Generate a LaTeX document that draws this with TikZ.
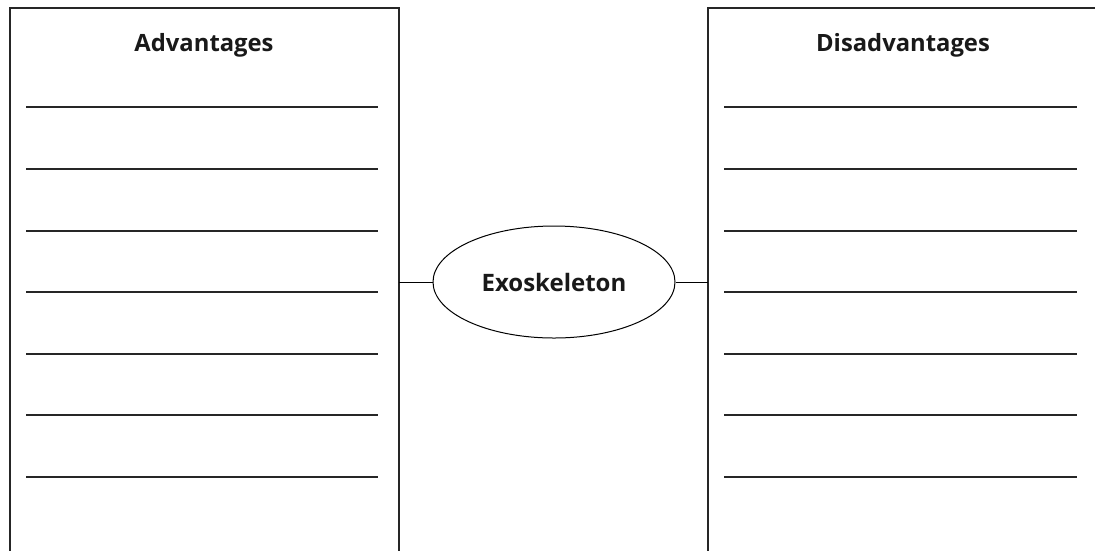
\documentclass[tikz,border=0pt]{standalone}
\usepackage{fontspec}
\setmainfont{Open Sans}
\usetikzlibrary{shapes.geometric}
\begin{document}
\begin{tikzpicture}[x=1pt,y=-1pt,
  boxline/.style={line width=1.3pt,black!85},
  rule/.style={line width=1.3pt,black!85},
  title/.style={font=\fontsize{23.8}{28}\selectfont\bfseries,text=black!90},
  hub/.style={ellipse,draw,line width=1pt,minimum width=242pt,minimum height=112pt,inner sep=0pt,font=\fontsize{24}{28}\selectfont\bfseries,text=black!90}]
\useasboundingbox (0,0) rectangle (1095,550);
\clip (0,0) rectangle (1095,550);
% boxes
\draw[boxline] (10,552) -- (10,8) -- (399,8) -- (399,552);
\draw[boxline] (708,552) -- (708,8) -- (1100,8);
% titles
\node[title] (adv) at (204,45) {Advantages};
\node[title] (dis) at (903,45) {Disadvantages};
% rules
\foreach \y in {107,169,231,292,354,415,477}{
  \draw[rule] (26,\y) -- (378,\y);
  \draw[rule] (724,\y) -- (1077,\y);
}
% hub
\node[hub] (exo) at (554,282) {Exoskeleton};
\coordinate (lb) at (399,282);
\coordinate (rb) at (708,282);
\draw[line width=1pt] (lb) -- (exo.west);
\draw[line width=1pt] (exo.east) -- (rb);
\end{tikzpicture}
\end{document}
